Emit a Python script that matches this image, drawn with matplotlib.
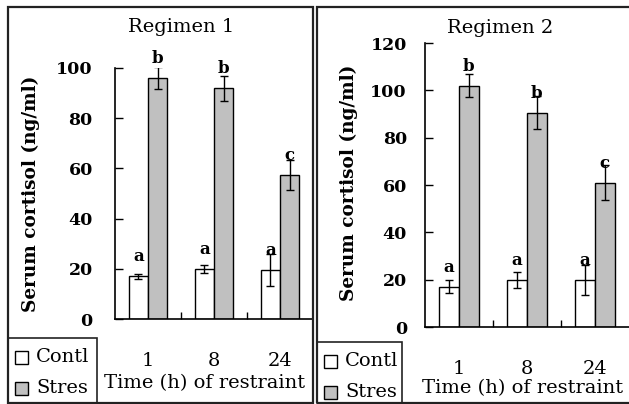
import numpy as np
import matplotlib
matplotlib.use("Agg")
import matplotlib.pyplot as plt
from matplotlib.patches import Rectangle

plt.rcParams['font.family'] = ['DejaVu Serif']

hours = ['1', '8', '24']
r1_contl = [17, 20, 19.5]
r1_contl_err = [1.0, 1.5, 6.2]
r1_stres = [96, 92, 57.5]
r1_stres_err = [4.2, 5.0, 6.0]
r2_contl = [17, 20, 20]
r2_contl_err = [2.7, 3.4, 6.3]
r2_stres = [102, 90.5, 61]
r2_stres_err = [5.0, 7.0, 7.4]
letters_contl = ['a', 'a', 'a']
letters_stres = ['b', 'b', 'c']

W, H = 629, 404
fig = plt.figure(figsize=(W / 100, H / 100), dpi=100)


def fx(x):
    return x / W


def fy(y):
    return 1 - y / H


def panel(box, ax_box, ymax, ypad, title, title_xy, ylab_xy, xlab_xy, leg_box,
          contl, contl_err, stres, stres_err):
    # outer panel frame
    x0, y0, x1, y1 = box
    fig.patches.append(Rectangle((fx(x0), fy(y1)), fx(x1 - x0), (y1 - y0) / H,
                                 transform=fig.transFigure, fill=False,
                                 lw=1.6, ec='#222222'))
    l, t, r, b = ax_box
    ax = fig.add_axes([fx(l), fy(b), fx(r - l), (b - t) / H])
    x = np.arange(len(hours))
    w = 0.29
    ax.bar(x - w / 2, contl, w, color='white', edgecolor='black', lw=1)
    ax.bar(x + w / 2, stres, w, color='#c0c0c0', edgecolor='black', lw=1)
    ax.errorbar(x - w / 2, contl, yerr=contl_err, fmt='none', ecolor='black',
                elinewidth=1, capsize=3)
    ax.errorbar(x + w / 2, stres, yerr=stres_err, fmt='none', ecolor='black',
                elinewidth=1, capsize=3)
    for i in range(len(hours)):
        ax.annotate(letters_contl[i], (x[i] - w / 2, contl[i]), xytext=(0, 14),
                    textcoords='offset points', ha='center', va='center',
                    fontsize=12, fontweight='bold')
        ax.annotate(letters_stres[i], (x[i] + w / 2, stres[i]), xytext=(0, 14),
                    textcoords='offset points', ha='center', va='center',
                    fontsize=12, fontweight='bold')
    ax.set_xlim(-0.5, len(hours) - 0.5)
    ax.set_ylim(0, ymax)
    ax.set_yticks(np.arange(0, ymax + 1, 20))
    ax.set_xticks(x)
    ax.set_xticklabels(hours, fontsize=14)
    ax.set_xticks(x[:-1] + 0.5, minor=True)
    ax.tick_params(axis='x', which='major', length=0, pad=24)
    ax.tick_params(axis='x', which='minor', direction='in', length=5, width=1)
    ax.tick_params(axis='y', direction='in', length=6, width=1, pad=ypad,
                   labelsize=12.5)
    for lb in ax.get_yticklabels():
        lb.set_fontweight('bold')
    for s in ['top', 'right']:
        ax.spines[s].set_visible(False)
    for s in ['left', 'bottom']:
        ax.spines[s].set_linewidth(1.2)
    ax.set_facecolor('none')
    fig.text(fx(title_xy[0]), fy(title_xy[1]), title, ha='center', va='center',
             fontsize=14)
    fig.text(fx(ylab_xy[0]), fy(ylab_xy[1]), 'Serum cortisol (ng/ml)',
             ha='center', va='center', rotation=90, fontsize=13.3,
             fontweight='bold')
    fig.text(fx(xlab_xy[0]), fy(xlab_xy[1]), 'Time (h) of restraint',
             ha='center', va='center', fontsize=14)
    # legend box
    lx0, ly0, lx1, ly1 = leg_box
    fig.patches.append(Rectangle((fx(lx0), fy(ly1)), fx(lx1 - lx0), (ly1 - ly0) / H,
                                 transform=fig.transFigure, fill=False,
                                 lw=1.2, ec='#222222'))
    for k, (lab, col) in enumerate([('Contl', 'white'), ('Stres', '#c0c0c0')]):
        cy = ly0 + 19 + k * 31
        fig.patches.append(Rectangle((fx(lx0 + 7), fy(cy + 6.5)), fx(13), 13 / H,
                                     transform=fig.transFigure, fc=col,
                                     ec='black', lw=1))
        fig.text(fx(lx0 + 28), fy(cy), lab, ha='left', va='center',
                 fontsize=14)
    return ax


panel((8, 7, 313, 403), (115, 68, 313, 319), 100, 16, 'Regimen 1', (181, 27),
      (31, 194), (205, 383), (8, 338, 97, 403),
      r1_contl, r1_contl_err, r1_stres, r1_stres_err)
panel((317, 7, 640, 403), (425, 43, 629, 327), 120, 13, 'Regimen 2', (500, 28),
      (349, 183), (523, 388), (317, 342, 402, 403),
      r2_contl, r2_contl_err, r2_stres, r2_stres_err)

fig.savefig('out.png', dpi=100)
